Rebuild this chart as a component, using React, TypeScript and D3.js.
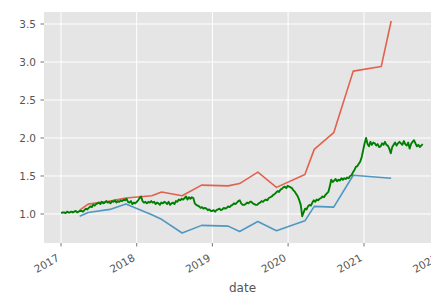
import * as d3 from "d3";

// ── Data ──────────────────────────────────────────────────────────────────────

const quarterDates = [
  "2017-04-01", "2017-05-12", "2017-08-25", "2017-11-10", "2018-03-15",
  "2018-05-01", "2018-08-08", "2018-11-10", "2019-03-18", "2019-05-12",
  "2019-08-08", "2019-11-06", "2020-03-22", "2020-05-06", "2020-08-08",
  "2020-11-10", "2021-03-25", "2021-05-12",
];

const redValues = [
  1.05, 1.13, 1.17, 1.21, 1.24, 1.29, 1.24, 1.38, 1.37, 1.40,
  1.55, 1.35, 1.52, 1.85, 2.07, 2.88, 2.94, 3.54,
];

const blueValues = [
  0.97, 1.02, 1.06, 1.13, 0.99, 0.93, 0.75, 0.85, 0.84, 0.77,
  0.90, 0.78, 0.91, 1.10, 1.09, 1.51, 1.48, 1.47,
];

// weekly closes, starting 2017-01-02
const greenStart = "2017-01-02";
const greenValues = [
  // 2017
  1.01, 1.02, 1.02, 1.01, 1.03, 1.02, 1.02, 1.03, 1.02, 1.03, 1.04, 1.02, 1.03, 1.04,
  1.04, 1.03, 1.05, 1.07, 1.06, 1.08,
  1.10, 1.09, 1.12, 1.11, 1.13, 1.14,
  1.15, 1.13, 1.16, 1.14, 1.15, 1.17, 1.15,
  1.16, 1.14, 1.17, 1.16, 1.18, 1.15, 1.17, 1.16,
  1.18, 1.17, 1.19, 1.18,
  1.20, 1.16, 1.15, 1.17, 1.13, 1.15, 1.14,
  // 2018
  1.16, 1.18, 1.21, 1.23, 1.17, 1.15, 1.16, 1.14, 1.16, 1.15,
  1.17, 1.15, 1.16, 1.13, 1.15, 1.14, 1.12, 1.15, 1.14, 1.16,
  1.15, 1.13, 1.16, 1.12, 1.14, 1.15, 1.13, 1.17, 1.16, 1.19,
  1.18, 1.20, 1.19, 1.21, 1.23, 1.19, 1.22, 1.20, 1.22, 1.21,
  1.14, 1.12, 1.11, 1.10, 1.08, 1.09, 1.07, 1.08, 1.07, 1.05, 1.06, 1.04,
  // 2019
  1.04, 1.05, 1.03, 1.05, 1.06, 1.07, 1.05, 1.06, 1.08, 1.07,
  1.08, 1.10, 1.09, 1.11, 1.12, 1.14, 1.13, 1.15, 1.17, 1.18,
  1.14, 1.12, 1.12, 1.13, 1.15, 1.14, 1.16, 1.16, 1.14, 1.13,
  1.12, 1.12, 1.14, 1.15, 1.17, 1.16, 1.18, 1.19, 1.18, 1.21,
  1.22, 1.23, 1.25, 1.26, 1.28, 1.30, 1.29, 1.32, 1.33, 1.35, 1.36, 1.34,
  // 2020
  1.37, 1.36, 1.35, 1.34, 1.31, 1.29, 1.26, 1.23, 1.18, 1.12,
  0.97, 1.02, 1.07, 1.06, 1.10, 1.12, 1.11, 1.15, 1.18, 1.16,
  1.19, 1.18, 1.20, 1.21, 1.23, 1.22, 1.25, 1.27, 1.29, 1.36,
  1.45, 1.42, 1.44, 1.46, 1.43, 1.45, 1.44, 1.47, 1.45, 1.47,
  1.46, 1.48, 1.47, 1.50, 1.51, 1.55, 1.58, 1.62, 1.63, 1.66, 1.69, 1.75,
  // 2021
  1.84, 1.93, 2.00, 1.92, 1.89, 1.95, 1.91, 1.94, 1.93, 1.90,
  1.92, 1.88, 1.89, 1.93, 1.91, 1.95, 1.91, 1.90, 1.86, 1.80,
  1.88, 1.91, 1.94, 1.90, 1.93, 1.95, 1.93, 1.91, 1.96, 1.92,
  1.90, 1.94, 1.86, 1.92, 1.95, 1.97, 1.93, 1.89, 1.91, 1.88, 1.90, 1.92,
];

const yTicks = [1.0, 1.5, 2.0, 2.5, 3.0, 3.5];
const xTickYears = [2017, 2018, 2019, 2020, 2021, 2022];

// ── Layout ────────────────────────────────────────────────────────────────────

const W = 431;
const H = 295;
const plotLeft = 44;
const plotRight = 441;
const plotTop = 12;
const plotBottom = 243;
const FONT = "DejaVu Sans, sans-serif";
const TICK_COLOR = "#555555";

type Pt = { date: Date; value: number };

export default function App() {
  const parse = d3.timeParse("%Y-%m-%d");
  const x = d3
    .scaleTime()
    .domain([new Date(2017, 0, 1), new Date(2021, 0, 1)])
    .range([61, 364]);
  const y = d3.scaleLinear().domain([0.618, 3.658]).range([plotBottom, plotTop]);

  const dates = quarterDates.map((d) => parse(d) as Date);
  const red: Pt[] = dates.map((d, i) => ({ date: d, value: redValues[i] }));
  const blue: Pt[] = dates.map((d, i) => ({ date: d, value: blueValues[i] }));
  const g0 = parse(greenStart) as Date;
  const green: Pt[] = greenValues.map((v, i) => ({
    date: d3.timeDay.offset(g0, 7 * i),
    value: v,
  }));

  const line = d3
    .line<Pt>()
    .x((d) => x(d.date))
    .y((d) => y(d.value));

  return (
    <svg
      width={W}
      height={H}
      style={{ position: "absolute", left: 0, top: 0, background: "#ffffff" }}
      fontFamily={FONT}
    >
      <defs>
        <clipPath id="plot-clip">
          <rect x={plotLeft} y={plotTop} width={plotRight - plotLeft} height={plotBottom - plotTop} />
        </clipPath>
      </defs>
      <rect
        x={plotLeft}
        y={plotTop}
        width={plotRight - plotLeft}
        height={plotBottom - plotTop}
        fill="#E5E5E5"
      />

      {/* grid */}
      {yTicks.map((t) => (
        <line key={"gy" + t} x1={plotLeft} x2={plotRight} y1={y(t)} y2={y(t)} stroke="#ffffff" strokeWidth={1} />
      ))}
      {xTickYears.map((yr) => {
        const px = x(new Date(yr, 0, 1));
        return <line key={"gx" + yr} x1={px} x2={px} y1={plotTop} y2={plotBottom} stroke="#ffffff" strokeWidth={1} />;
      })}

      {/* series */}
      <g clipPath="url(#plot-clip)" fill="none" strokeLinejoin="round">
        <path d={line(red) ?? ""} stroke="#E24A33" strokeWidth={1.6} strokeOpacity={0.85} />
        <path d={line(blue) ?? ""} stroke="#348ABD" strokeWidth={1.6} strokeOpacity={0.85} />
        <path d={line(green) ?? ""} stroke="#008000" strokeWidth={1.9} />
      </g>

      {/* y axis */}
      {yTicks.map((t) => (
        <g key={"yt" + t}>
          <line x1={plotLeft - 3.5} x2={plotLeft} y1={y(t)} y2={y(t)} stroke={TICK_COLOR} strokeWidth={0.8} />
          <text x={plotLeft - 8} y={y(t)} dy="0.35em" textAnchor="end" fontSize={10.5} fill={TICK_COLOR}>
            {t.toFixed(1)}
          </text>
        </g>
      ))}

      {/* x axis */}
      {xTickYears.map((yr) => {
        const px = x(new Date(yr, 0, 1));
        return (
          <g key={"xt" + yr}>
            <line x1={px} x2={px} y1={plotBottom} y2={plotBottom + 3.5} stroke={TICK_COLOR} strokeWidth={0.8} />
            <text
              x={px - 1}
              y={260}
              textAnchor="end"
              fontSize={10.5}
              fill={TICK_COLOR}
              transform={`rotate(-30, ${px - 1}, 260)`}
            >
              {yr}
            </text>
          </g>
        );
      })}

      <text x={(plotLeft + plotRight) / 2} y={292} textAnchor="middle" fontSize={12} fill={TICK_COLOR}>
        date
      </text>
    </svg>
  );
}
